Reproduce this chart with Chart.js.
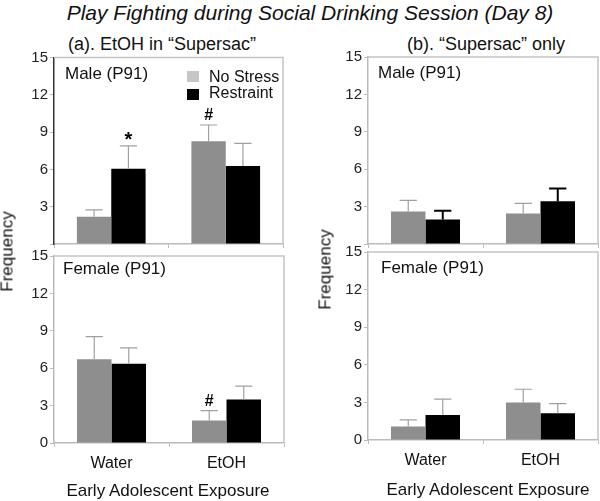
<!DOCTYPE html>
<html>
<head>
<meta charset="utf-8">
<script src="https://cdn.jsdelivr.net/npm/chart.js@4"></script>
<style>
  body { margin: 0; background: #fff; font-family: 'Liberation Sans', Arial, sans-serif; color: #111; }
  #wrap { position: relative; width: 600px; height: 501px; overflow: hidden; }
  canvas { position: absolute; }
  .t { position: absolute; white-space: nowrap; line-height: 1; }
  .c { text-align: center; }
  .sw { position: absolute; width: 12px; height: 11px; }
</style>
</head>
<body>
<div id="wrap">
  <div class="t c" style="left:0;width:620px;top:2px;font-size:21px;font-style:italic;">Play Fighting during Social Drinking Session (Day 8)</div>
  <div class="t c" style="left:12px;width:300px;top:35px;font-size:18px;">(a). EtOH in “Supersac”</div>
  <div class="t c" style="left:336px;width:300px;top:35px;font-size:18px;">(b). “Supersac” only</div>

  <canvas id="tl" width="290" height="215" style="left:0;top:40px"></canvas>
  <canvas id="bl" width="290" height="230" style="left:0;top:245px"></canvas>
  <canvas id="tr" width="290" height="215" style="left:310px;top:40px"></canvas>
  <canvas id="br" width="290" height="235" style="left:310px;top:240px"></canvas>

  <div class="t" style="left:65px;top:65px;font-size:17px;">Male (P91)</div>
  <div class="t" style="left:63px;top:260px;font-size:17px;">Female (P91)</div>
  <div class="t" style="left:378px;top:64px;font-size:17px;">Male (P91)</div>
  <div class="t" style="left:381px;top:259px;font-size:17px;">Female (P91)</div>

  <div class="sw" style="left:187px;top:71px;background:#c6c6c6;"></div>
  <div class="t" style="left:209px;top:69px;font-size:16px;">No Stress</div>
  <div class="sw" style="left:187px;top:89px;background:#000;"></div>
  <div class="t" style="left:209px;top:85px;font-size:16px;">Restraint</div>

  <div class="t c" style="left:18px;width:300px;top:482px;font-size:17px;">Early Adolescent Exposure</div>
  <div class="t c" style="left:338px;width:300px;top:481px;font-size:17px;">Early Adolescent Exposure</div>

  <div class="t c" style="left:-43px;width:100px;top:243px;font-size:17px;transform:rotate(-90deg);">Frequency</div>
  <div class="t c" style="left:275px;width:100px;top:261px;font-size:17px;transform:rotate(-90deg);">Frequency</div>
</div>
<script>
const categories = ['Water', 'EtOH'];
const yTicks = [0, 3, 6, 9, 12, 15];

// (a) EtOH in Supersac
const maleEtohNoStress = [2.2, 8.27];
const maleEtohNoStressErr = [0.55, 1.3];
const maleEtohRestraint = [6.05, 6.27];
const maleEtohRestraintErr = [1.85, 1.83];
const maleEtohNoStressMarks = ['', '#'];
const maleEtohRestraintMarks = ['*', ''];

const femaleEtohNoStress = [6.71, 1.81];
const femaleEtohNoStressErr = [1.82, 0.78];
const femaleEtohRestraint = [6.35, 3.49];
const femaleEtohRestraintErr = [1.28, 1.07];
const femaleEtohNoStressMarks = ['', '#'];
const femaleEtohRestraintMarks = ['', ''];

// (b) Supersac only
const maleSacNoStress = [2.6, 2.44];
const maleSacNoStressErr = [0.9, 0.82];
const maleSacRestraint = [1.96, 3.42];
const maleSacRestraintErr = [0.7, 1.04];

const femaleSacNoStress = [1.08, 3.0];
const femaleSacNoStressErr = [0.52, 1.05];
const femaleSacRestraint = [2.0, 2.14];
const femaleSacRestraintErr = [1.26, 0.77];

const FONT = "'Liberation Sans', Arial, sans-serif";
const GRAY_BAR = '#8e8e8e';
const FRAME = '#c4c4c4';

// light frame on top and right of the plot area
const framePlugin = {
  id: 'frame',
  beforeDatasetsDraw(chart) {
    const a = chart.chartArea, ctx = chart.ctx;
    ctx.save();
    ctx.strokeStyle = FRAME;
    ctx.lineWidth = 1.5;
    ctx.beginPath();
    ctx.moveTo(a.left, a.top);
    ctx.lineTo(a.right, a.top);
    ctx.lineTo(a.right, a.bottom);
    ctx.stroke();
    ctx.restore();
  }
};

// upper error bars + significance marks
const errorPlugin = {
  id: 'errbars',
  afterDatasetsDraw(chart) {
    const ctx = chart.ctx, y = chart.scales.y;
    chart.data.datasets.forEach((ds, i) => {
      const meta = chart.getDatasetMeta(i);
      meta.data.forEach((bar, j) => {
        const top = y.getPixelForValue(ds.data[j] + ds.err[j]);
        const cap = bar.width * 0.25;
        ctx.save();
        ctx.strokeStyle = ds.errColor;
        ctx.lineWidth = ds.errWidth;
        ctx.beginPath();
        ctx.moveTo(bar.x, bar.y);
        ctx.lineTo(bar.x, top);
        ctx.moveTo(bar.x - cap, top);
        ctx.lineTo(bar.x + cap, top);
        ctx.stroke();
        const m = ds.marks && ds.marks[j];
        if (m) {
          ctx.fillStyle = '#000';
          ctx.textAlign = 'center';
          ctx.textBaseline = 'alphabetic';
          ctx.font = (m === '*' ? 'bold 20px ' : 'bold 16px ') + FONT;
          ctx.fillText(m, bar.x, top - (m === '*' ? 0 : 5));
        }
        ctx.restore();
      });
    });
  }
};

function panel(id, p) {
  new Chart(document.getElementById(id), {
    type: 'bar',
    data: {
      labels: categories,
      datasets: [
        { data: p.ns, err: p.nsErr, marks: p.nsMarks, backgroundColor: GRAY_BAR,
          errColor: '#a0a0a0', errWidth: 1.2 },
        { data: p.r, err: p.rErr, marks: p.rMarks, backgroundColor: '#000',
          errColor: p.rErrColor || '#a0a0a0', errWidth: p.rErrWidth || 1.2 }
      ]
    },
    options: {
      responsive: false,
      animation: false,
      layout: { padding: { top: p.padTop, right: p.padRight, left: 0, bottom: 0 } },
      plugins: { legend: { display: false }, tooltip: { enabled: false } },
      datasets: { bar: { categoryPercentage: 0.6, barPercentage: 1.0 } },
      scales: {
        x: {
          grid: { drawOnChartArea: false, tickLength: 4, color: '#bbb', lineWidth: 1 },
          border: { color: '#bbb', width: 1.5 },
          ticks: { display: p.showLabels, color: '#111', padding: 7, font: { size: 16, family: FONT } },
          afterFit: (s) => { s.height = p.xHeight; }
        },
        y: {
          min: 0, max: 15,
          afterBuildTicks: (s) => { s.ticks = yTicks.map(v => ({ value: v })); },
          grid: { drawOnChartArea: false, tickLength: 4, color: '#bbb' },
          border: { color: p.axisColor, width: 1.5 },
          ticks: {
            color: '#222', padding: 2, font: { size: 15, family: FONT },
            callback: (v) => (v === 0 && !p.showZero) ? '' : v
          },
          afterFit: (s) => { s.width = p.yWidth; }
        }
      }
    },
    plugins: [framePlugin, errorPlugin]
  });
}

panel('tl', {
  ns: maleEtohNoStress, nsErr: maleEtohNoStressErr, nsMarks: maleEtohNoStressMarks,
  r: maleEtohRestraint, rErr: maleEtohRestraintErr, rMarks: maleEtohRestraintMarks,
  showZero: false, showLabels: false, axisColor: '#333',
  padTop: 17.5, padRight: 7, yWidth: 54, xHeight: 10
});
panel('bl', {
  ns: femaleEtohNoStress, nsErr: femaleEtohNoStressErr, nsMarks: femaleEtohNoStressMarks,
  r: femaleEtohRestraint, rErr: femaleEtohRestraintErr, rMarks: femaleEtohRestraintMarks,
  showZero: true, showLabels: true, axisColor: '#bbb',
  padTop: 10, padRight: 6, yWidth: 54, xHeight: 32
});
panel('tr', {
  ns: maleSacNoStress, nsErr: maleSacNoStressErr,
  r: maleSacRestraint, rErr: maleSacRestraintErr, rErrColor: '#000', rErrWidth: 2,
  showZero: false, showLabels: false, axisColor: '#bbb',
  padTop: 17, padRight: 2, yWidth: 58, xHeight: 10.5
});
panel('br', {
  ns: femaleSacNoStress, nsErr: femaleSacNoStressErr,
  r: femaleSacRestraint, rErr: femaleSacRestraintErr,
  showZero: true, showLabels: true, axisColor: '#bbb',
  padTop: 12, padRight: 2, yWidth: 58, xHeight: 35
});
</script>
</body>
</html>
